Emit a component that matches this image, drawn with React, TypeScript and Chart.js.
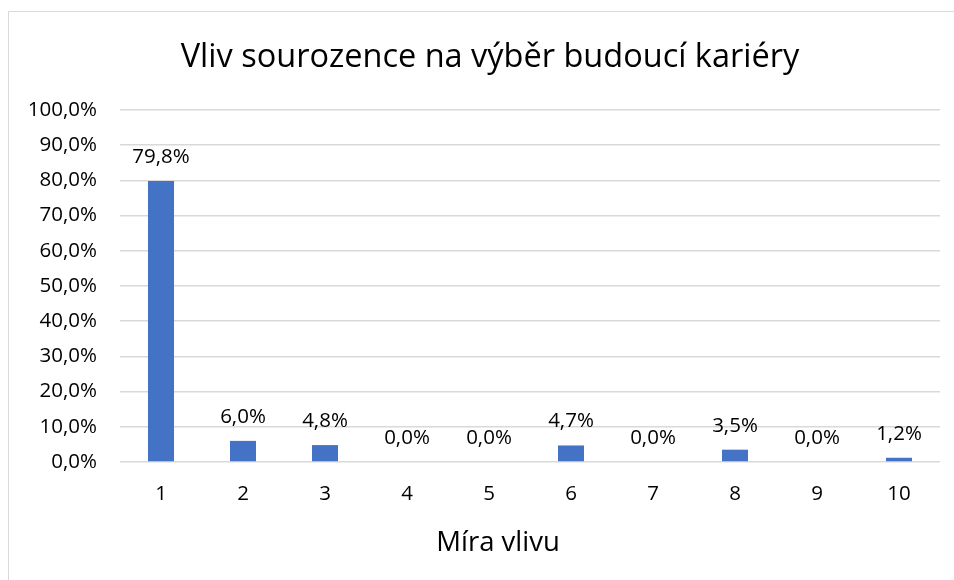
import React, { useEffect, useRef } from "react";
import { Chart, registerables } from "chart.js";

Chart.register(...registerables);

const categories = ["1", "2", "3", "4", "5", "6", "7", "8", "9", "10"];
const values = [79.8, 6.0, 4.8, 0.0, 0.0, 4.7, 0.0, 3.5, 0.0, 1.2];
const titleText = "Vliv sourozence na výběr budoucí kariéry";
const xAxisTitle = "Míra vlivu";

const FONT = "'Open Sans'";
const fmt = (v: number) => v.toFixed(1).replace(".", ",") + "%";

export default function App() {
  const ref = useRef<HTMLCanvasElement | null>(null);
  useEffect(() => {
    if (!ref.current) return;
    const decor = {
      id: "decor",
      beforeDraw(chart: any) {
        const ctx = chart.ctx;
        ctx.save();
        ctx.fillStyle = "#ffffff";
        ctx.fillRect(0, 0, chart.width, chart.height);
        ctx.strokeStyle = "#d9d9d9";
        ctx.lineWidth = 1;
        ctx.beginPath();
        ctx.moveTo(8.5, chart.height);
        ctx.lineTo(8.5, 11.5);
        ctx.lineTo(chart.width, 11.5);
        ctx.stroke();
        ctx.restore();
      },
      afterDraw(chart: any) {
        const ctx = chart.ctx;
        ctx.save();
        ctx.fillStyle = "#000";
        ctx.textAlign = "center";
        ctx.textBaseline = "alphabetic";
        ctx.font = `32.5px ${FONT}`;
        ctx.fillText(titleText, 490, 67);
        ctx.font = `27.5px ${FONT}`;
        ctx.fillText(xAxisTitle, 498, 551);
        ctx.font = `20.5px ${FONT}`;
        const meta = chart.getDatasetMeta(0);
        meta.data.forEach((bar: any, i: number) => {
          ctx.fillText(fmt(values[i]), bar.x, bar.y - 18);
        });
        ctx.restore();
      },
    };
    const chart = new Chart(ref.current, {
      type: "bar",
      data: {
        labels: categories,
        datasets: [
          {
            data: values,
            backgroundColor: "#4472C4",
            barPercentage: 0.635,
            categoryPercentage: 0.5,
          },
        ],
      },
      options: {
        animation: false,
        responsive: true,
        maintainAspectRatio: false,
        layout: { padding: { top: 110, right: 14, left: 8, bottom: 0 } },
        plugins: {
          legend: { display: false },
          title: { display: false },
          tooltip: { enabled: false },
        },
        scales: {
          x: {
            grid: { display: false, drawTicks: false },
            border: { display: false },
            ticks: { color: "#000", font: { family: FONT, size: 20.5 }, padding: 20 },
            afterFit: (s: any) => {
              s.height = 118;
            },
          },
          y: {
            min: 0,
            max: 100,
            grid: { color: "#d9d9d9", lineWidth: 1.5, drawTicks: false },
            border: { display: false },
            ticks: {
              stepSize: 10,
              color: "#000",
              font: { family: FONT, size: 20.5 },
              padding: 23,
              callback: (v: any) => fmt(Number(v)),
            },
            afterFit: (s: any) => {
              s.width = 112;
            },
          },
        },
      },
      plugins: [decor],
    });
    return () => chart.destroy();
  }, []);
  return (
    <div style={{ position: "fixed", left: 0, top: 0, width: 954, height: 580, overflow: "hidden", background: "#fff" }}>
      <canvas ref={ref} />
    </div>
  );
}
